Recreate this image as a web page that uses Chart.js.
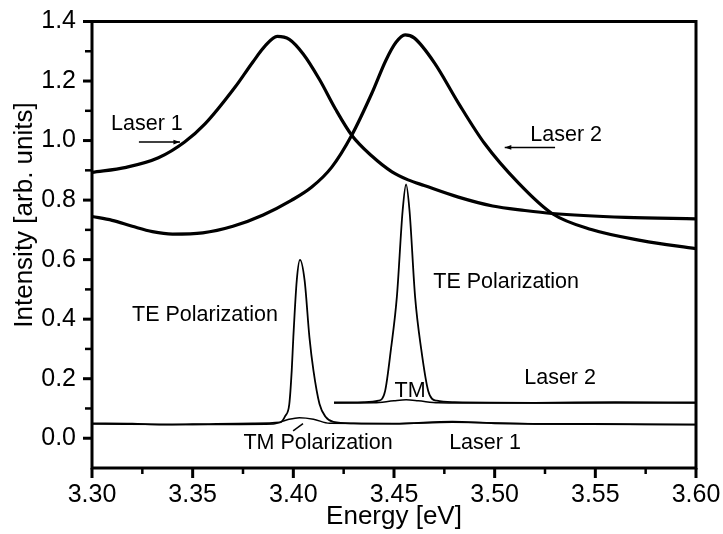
<!DOCTYPE html>
<html>
<head>
<meta charset="utf-8">
<script src="https://cdn.jsdelivr.net/npm/chart.js@4"></script>
<style>
  html, body { margin: 0; padding: 0; background: #fff; }
  #wrap { width: 723px; height: 534px; }
</style>
</head>
<body>
<div id="wrap"><canvas id="spectra" width="723" height="534"></canvas></div>
<script>
// energies [eV] and intensities [arb. units]

// broad resonances (thick lines)
const laser1ResE = [3.300, 3.317, 3.333, 3.346, 3.356, 3.371, 3.380, 3.386, 3.392, 3.398, 3.405, 3.413, 3.421, 3.429, 3.439, 3.449, 3.457, 3.465, 3.482, 3.499, 3.515, 3.5285, 3.565, 3.600];
const laser1ResI = [0.893, 0.910, 0.942, 0.995, 1.055, 1.179, 1.265, 1.318, 1.350, 1.340, 1.290, 1.205, 1.105, 1.018, 0.948, 0.895, 0.868, 0.849, 0.810, 0.780, 0.765, 0.755, 0.742, 0.737];

const laser2ResE = [3.300, 3.310, 3.320, 3.330, 3.340, 3.355, 3.370, 3.385, 3.399, 3.409, 3.419, 3.429, 3.439, 3.446, 3.451, 3.4555, 3.460, 3.470, 3.482, 3.495, 3.512, 3.5285, 3.548, 3.573, 3.600];
const laser2ResI = [0.745, 0.732, 0.712, 0.694, 0.686, 0.690, 0.712, 0.750, 0.799, 0.843, 0.910, 1.018, 1.159, 1.270, 1.330, 1.355, 1.345, 1.262, 1.126, 0.990, 0.856, 0.755, 0.701, 0.664, 0.637];

// laser emission, laser 1 (TE and TM)
const te1E = [3.300, 3.320, 3.335, 3.350, 3.380, 3.3934, 3.396, 3.398, 3.3992, 3.400, 3.4017, 3.4033, 3.4056, 3.408, 3.410, 3.413, 3.416, 3.4199, 3.430, 3.450, 3.479, 3.500, 3.550, 3.600];
const te1I = [0.050, 0.049, 0.046, 0.047, 0.050, 0.053, 0.075, 0.115, 0.227, 0.339, 0.530, 0.599, 0.530, 0.339, 0.227, 0.115, 0.072, 0.055, 0.050, 0.049, 0.056, 0.050, 0.048, 0.046];
const tm1E = [3.300, 3.350, 3.390, 3.397, 3.403, 3.410, 3.418, 3.450, 3.479, 3.520, 3.600];
const tm1I = [0.048, 0.046, 0.048, 0.062, 0.069, 0.064, 0.050, 0.049, 0.054, 0.048, 0.046];

// laser emission, laser 2 (TE and TM)
const te2E = [3.4202, 3.435, 3.4423, 3.4456, 3.4485, 3.4514, 3.4543, 3.456, 3.4577, 3.4605, 3.4635, 3.467, 3.4712, 3.480, 3.520, 3.560, 3.600];
const te2I = [0.120, 0.121, 0.126, 0.159, 0.300, 0.473, 0.765, 0.853, 0.765, 0.473, 0.300, 0.159, 0.126, 0.121, 0.119, 0.121, 0.120];
const tm2E = [3.4202, 3.440, 3.450, 3.456, 3.462, 3.472, 3.500, 3.600];
const tm2I = [0.118, 0.119, 0.126, 0.129, 0.126, 0.119, 0.118, 0.118];

// text labels and arrows placed in data coordinates
const notes = [
  { text: 'Laser 1', x: 3.3273, y: 1.055 },
  { text: 'Laser 2', x: 3.5355, y: 1.018 },
  { text: 'TE Polarization', x: 3.3561, y: 0.415 },
  { text: 'TE Polarization', x: 3.5057, y: 0.524 },
  { text: 'TM', x: 3.458, y: 0.159 },
  { text: 'Laser 2', x: 3.5325, y: 0.2025 },
  { text: 'TM Polarization', x: 3.4123, y: -0.016 },
  { text: 'Laser 1', x: 3.4952, y: -0.015 }
];
const arrows = [
  { x0: 3.3233, y0: 0.995, x1: 3.3437, y1: 0.995, head: true },
  { x0: 3.530, y0: 0.977, x1: 3.505, y1: 0.977, head: true },
  { x0: 3.3999, y0: 0.025, x1: 3.4048, y1: 0.049, head: false }
];
const yTitle = 'Intensity [arb. units]';

const pts = (xs, ys) => xs.map((x, i) => ({ x: x, y: ys[i] }));
const FONT = "'Liberation Sans', Arial, sans-serif";

function line(data, width) {
  return {
    data: data,
    borderColor: '#000',
    borderWidth: width,
    pointRadius: 0,
    fill: false,
    cubicInterpolationMode: 'monotone'
  };
}

const isMajorX = v => Math.round(v * 1000) % 50 === 0;
const isMajorY = v => Math.round(v * 10) % 2 === 0;

const framePlugin = {
  id: 'frame',
  afterDraw(chart) {
    const ctx = chart.ctx;
    const a = chart.chartArea;
    const xs = chart.scales.x, ys = chart.scales.y;
    ctx.save();
    ctx.strokeStyle = '#000';
    ctx.lineWidth = 3;
    ctx.strokeRect(a.left, a.top, a.right - a.left, a.bottom - a.top);

    // tick marks
    xs.ticks.forEach(t => {
      const px = xs.getPixelForValue(t.value);
      const len = isMajorX(t.value) ? 10 : 6;
      ctx.lineWidth = isMajorX(t.value) ? 3 : 2.5;
      ctx.beginPath();
      ctx.moveTo(px, a.bottom);
      ctx.lineTo(px, a.bottom + len);
      ctx.stroke();
    });
    ys.ticks.forEach(t => {
      if (t.value < -0.05) return;
      const py = ys.getPixelForValue(t.value);
      const len = isMajorY(t.value) ? 9 : 7;
      ctx.lineWidth = isMajorY(t.value) ? 3 : 2.5;
      ctx.beginPath();
      ctx.moveTo(a.left - len, py);
      ctx.lineTo(a.left, py);
      ctx.stroke();
    });

    // y axis title, sits a little above the middle of the axis
    ctx.fillStyle = '#000';
    ctx.save();
    ctx.translate(25, ys.getPixelForValue(0.75));
    ctx.rotate(-Math.PI / 2);
    ctx.font = '26px ' + FONT;
    ctx.textAlign = 'center';
    ctx.textBaseline = 'middle';
    ctx.fillText(yTitle, 0, 0);
    ctx.restore();

    // annotations
    ctx.font = '21.5px ' + FONT;
    ctx.textAlign = 'center';
    ctx.textBaseline = 'middle';
    notes.forEach(n => {
      ctx.fillText(n.text, xs.getPixelForValue(n.x), ys.getPixelForValue(n.y));
    });
    ctx.lineWidth = 1.5;
    arrows.forEach(r => {
      const x0 = xs.getPixelForValue(r.x0), y0 = ys.getPixelForValue(r.y0);
      const x1 = xs.getPixelForValue(r.x1), y1 = ys.getPixelForValue(r.y1);
      ctx.beginPath();
      ctx.moveTo(x0, y0);
      ctx.lineTo(x1, y1);
      ctx.stroke();
      if (r.head) {
        const ang = Math.atan2(y1 - y0, x1 - x0);
        ctx.beginPath();
        ctx.moveTo(x1, y1);
        ctx.lineTo(x1 - 7 * Math.cos(ang - 0.35), y1 - 7 * Math.sin(ang - 0.35));
        ctx.lineTo(x1 - 7 * Math.cos(ang + 0.35), y1 - 7 * Math.sin(ang + 0.35));
        ctx.closePath();
        ctx.fill();
      }
    });
    ctx.restore();
  }
};

new Chart(document.getElementById('spectra'), {
  type: 'line',
  data: {
    datasets: [
      line(pts(tm1E, tm1I), 1.5),
      line(pts(te1E, te1I), 1.8),
      line(pts(tm2E, tm2I), 1.5),
      line(pts(te2E, te2I), 1.8),
      line(pts(laser1ResE, laser1ResI), 3.2),
      line(pts(laser2ResE, laser2ResI), 3.2)
    ]
  },
  options: {
    responsive: false,
    devicePixelRatio: 1,
    animation: false,
    layout: { padding: { top: 21.5, right: 27, left: 0, bottom: 0 } },
    plugins: { legend: { display: false }, tooltip: { enabled: false } },
    scales: {
      x: {
        type: 'linear',
        min: 3.30,
        max: 3.60,
        afterFit(scale) {
          scale.height = 66;
          scale.paddingLeft = 0;
          scale.paddingRight = 0;
        },
        grid: { display: false, drawTicks: false },
        border: { display: false },
        ticks: {
          stepSize: 0.025,
          autoSkip: false,
          maxRotation: 0,
          padding: 12,
          color: '#000',
          font: { family: FONT, size: 25 },
          callback: v => isMajorX(v) ? v.toFixed(2) : ''
        },
        title: {
          display: true,
          text: 'Energy [eV]',
          color: '#000',
          font: { family: FONT, size: 26 },
          padding: { top: 0, bottom: 2 }
        }
      },
      y: {
        min: -0.1,
        max: 1.4,
        afterFit(scale) {
          scale.width = 92;
          scale.paddingTop = 0;
          scale.paddingBottom = 0;
        },
        grid: { display: false, drawTicks: false },
        border: { display: false },
        ticks: {
          stepSize: 0.1,
          autoSkip: false,
          padding: 16,
          color: '#000',
          font: { family: FONT, size: 25 },
          callback: v => (v >= 0 && isMajorY(v)) ? v.toFixed(1) : ''
        },
        title: { display: false }
      }
    }
  },
  plugins: [framePlugin]
});
</script>
</body>
</html>
